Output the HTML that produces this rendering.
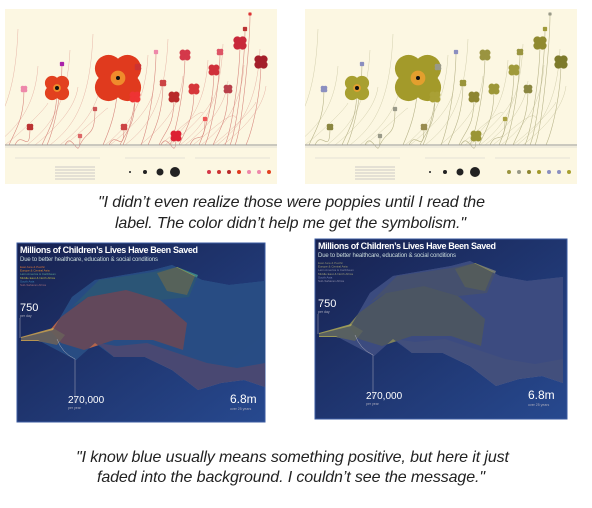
<!DOCTYPE html>
<html><head><meta charset="utf-8">
<style>
html,body{margin:0;padding:0;background:#fff;width:592px;height:508px;overflow:hidden;font-family:"Liberation Sans",sans-serif}
svg{position:absolute;left:0;top:0}
</style></head>
<body>
<svg id="root" width="592" height="508" viewBox="0 0 592 508">
<defs>
<pattern id="dots" width="2.4" height="2.4" patternUnits="userSpaceOnUse"><rect width="2.4" height="2.4" fill="#1b2c63" opacity="0.55"/></pattern>
<linearGradient id="navy" x1="0" y1="0" x2="1" y2="1"><stop offset="0" stop-color="#17214f"/><stop offset="1" stop-color="#27498f"/></linearGradient>
<clipPath id="topclip"><rect x="0" y="0" width="272" height="175"/></clipPath>
</defs>
<g id="top-left" transform="translate(5,9)" clip-path="url(#topclip)"></g>
<g id="top-right" transform="translate(305,9)" clip-path="url(#topclip)"></g>
<text x="98" y="207" textLength="387" font-size="16" font-style="italic" fill="#222">"I didn’t even realize those were poppies until I read the</text>
<text x="115" y="228" textLength="351" font-size="16" font-style="italic" fill="#222">label. The color didn’t help me get the symbolism."</text>
<g id="bottom-left" transform="translate(17,243)"></g>
<g id="bottom-right" transform="translate(315,239)"></g>
<text x="76" y="462" textLength="433" font-size="16" font-style="italic" fill="#222">"I know blue usually means something positive, but here it just</text>
<text x="97" y="482" textLength="388" font-size="16" font-style="italic" fill="#222">faded into the background. I couldn’t see the message."</text>
</svg>
<script>
const NS="http://www.w3.org/2000/svg";
// poppy flowers: x, y, radius
const flowerX=[113,52,180,133,169,130,189,209,235,256,223,171,119,25,19,57,151,215,158,240,200,90,75,245];
const flowerY=[69,79,46,58,88,88,80,61,34,53,80,127,118,118,80,55,43,43,74,20,110,100,127,5];
const flowerR=[21,11,5,3,5,5,5,5,6,6,4,5,3,3,3,2,2,3,3,2,2,2,2,1.5];
const flowerHueRed=["#e03a1e","#e2411f","#d4384a","#c33","#b82a2a","#e33","#d6373a","#d0303a","#c8283a","#a41f2a","#b8404a","#d23","#c44","#b33","#e8a","#a2a","#e8a","#d56","#c44","#b33","#e55","#c55","#d66","#d33"];
const flowerHueOlive=["#a39a2a","#a8a030","#9a9440","#998","#8d8530","#a9a035","#9d9738","#a09a3a","#908a30","#7d7a2a","#8a8640","#9a9535","#998c50","#8a8640","#8b8fc0","#8b8fc0","#8b8fc0","#9a9540","#99943a","#a09a3a","#a9a040","#998","#998","#998"];
const stemEnds=[10,30,40,62,70,85,95,100,140,145,160,175,195,200,205,215,220,228,236,248,252,258];
function el(t,a,p){const e=document.createElementNS(NS,t);for(const k in a)e.setAttribute(k,a[k]);p.appendChild(e);return e;}
function poppy(g,hue,stemCol){
  const bg=el('rect',{x:0,y:0,width:272,height:175,fill:'#fcf7e2'},g);
  
  for(let i=0;i<stemEnds.length;i++){const x=stemEnds[i];
    const s=el('path',{d:`M${x-40},136 C${x-20},120 ${x},100 ${x+3},${20+(i*37)%90}`,stroke:stemCol,'stroke-width':0.5,fill:'none',opacity:0.6},g);
    }
  for(let i=0;i<flowerX.length;i++){
    const s=el('path',{d:`M${flowerX[i]-15},136 C${flowerX[i]-8},120 ${flowerX[i]},${flowerY[i]+30} ${flowerX[i]},${flowerY[i]}`,stroke:stemCol,'stroke-width':0.6,fill:'none'},g);
    
  }
  for(let i=0;i<flowerX.length;i++){
    const r=flowerR[i],x=flowerX[i],y=flowerY[i];const f=el('g',{},g);
    
    for(const [dx,dy] of [[-1,-1],[1,-1],[-1,1],[1,1]])el('circle',{cx:x+dx*r*0.45,cy:y+dy*r*0.45,r:r*0.65,fill:hue[i]},f);
    if(r>8){el('circle',{cx:x,cy:y,r:r*0.35,fill:'#f2a030',opacity:0.8},f);el('circle',{cx:x,cy:y,r:2,fill:'#111'},f);}
  }
  const ax=el('line',{x1:0,y1:136,x2:272,y2:136,stroke:'#999','stroke-width':1},g);
  
  el('line',{x1:0,y1:138,x2:272,y2:138,stroke:'#ccc','stroke-width':0.6},g);
  const lg=el('g',{},g);
  el('line',{x1:10,y1:149,x2:95,y2:149,stroke:'#ccc','stroke-width':0.5},lg);
  el('line',{x1:120,y1:149,x2:180,y2:149,stroke:'#ccc','stroke-width':0.5},lg);
  el('line',{x1:190,y1:149,x2:265,y2:149,stroke:'#ccc','stroke-width':0.5},lg);
  for(let k=0;k<5;k++)el('line',{x1:50,y1:158+k*3,x2:90,y2:158+k*3,stroke:'#bbb','stroke-width':0.7},lg);
  [1,2,3.5,5].forEach((r,k)=>el('circle',{cx:125+k*15,cy:163,r:r,fill:'#222'},lg));
  for(let k=0;k<7;k++)el('circle',{cx:204+k*10,cy:163,r:2,fill:hue[[2,3,4,0,14,16,1][k]]},lg);
}
poppy(document.getElementById('top-left'),flowerHueRed,'#d88a80');
poppy(document.getElementById('top-right'),flowerHueOlive,'#b8b48a');

const blobOuter=[[4,95],[36,87],[55,54],[78,37],[136,27],[155,22],[185,37],[212,42],[248,38],[248,144],[227,137],[204,140],[181,147],[155,127],[128,114],[97,114],[78,100],[59,117],[40,107],[21,97],[4,97]];
const blobOrange=[[33,87],[44,74],[71,54],[109,47],[143,57],[170,80],[166,107],[136,97],[97,97],[67,107],[44,100]];
const blobTeal=[[55,64],[82,37],[136,29],[160,24],[181,32],[172,54],[143,57],[109,47],[71,54]];
const blobYellow=[[140,30],[160,24],[178,33],[170,52],[150,48]];
const blobBottom=[[80,100],[97,114],[128,114],[155,127],[181,147],[204,140],[227,137],[248,144],[248,120],[220,125],[190,120],[160,110],[130,100],[100,103]];
const blobTail=[[4,94],[36,85],[48,92],[40,102],[21,98],[4,98]];
const legendLabels=["East Asia & Pacific","Europe & Central Asia","Latin America & Caribbean","Middle East & North Africa","South Asia","Sub-Saharan Africa"];
const colsColor=["#d2703a","#e08a30","#5aa08a","#b6b24a","#3b86b8","#9a6a7a"];
const colsMuted=["#8a8c70","#a4a070","#8086a0","#9a9a78","#7c88b8","#8a8aa8"];
function pts(a){return a.map(p=>p.join(',')).join(' ');}
function kids(g,w,h,fills,legendCols){
  const bg=el('rect',{x:0,y:0,width:w,height:h,fill:'url(#navy)',stroke:'#3a5aa0','stroke-width':1},g);
  
  const regions=[[blobOuter,fills[0],'region-all'],[blobBottom,fills[1],'region-bottom'],[blobTeal,fills[2],'region-upper'],[blobOrange,fills[3],'region-center'],[blobYellow,fills[4],'region-yellow'],[blobTail,fills[5],'region-tail']];
  regions.forEach(([p,c,n])=>{const e=el('polygon',{points:pts(p),fill:c,opacity:0.9},g);});
  el('polygon',{points:pts(blobOuter),fill:'url(#dots)'},g);
  const t=el('text',{x:3,y:10,'font-size':9,'font-weight':'bold',fill:'#fff',textLength:178},g);t.textContent="Millions of Children’s Lives Have Been Saved";
  
  const s=el('text',{x:3,y:18,'font-size':6,fill:'#cdd',textLength:138},g);s.textContent="Due to better healthcare, education & social conditions";
  
  legendLabels.forEach((l,i)=>{const e=el('text',{x:3,y:25+i*3.6,'font-size':3,fill:legendCols[i]},g);e.textContent=l;});
  el('line',{x1:3,y1:75,x2:3,y2:95,stroke:'#aab','stroke-width':0.5},g);
  el('path',{d:'M40,96 Q45,110 58,116 L58,160',stroke:'#aab','stroke-width':0.5,fill:'none'},g);
  [[3,68,"750",11],[51,160,"270,000",10],[213,160,"6.8m",12]].forEach(([x,y,tx,fs])=>{const e=el('text',{x:x,y:y,'font-size':fs,fill:'#fff'},g);e.textContent=tx;});
  [[3,74,"per day"],[51,166,"per year"],[213,167,"over 25 years"]].forEach(([x,y,tx])=>{const e=el('text',{x:x,y:y,'font-size':3.5,fill:'#aab'},g);e.textContent=tx;});
}
kids(document.getElementById('bottom-left'),248,179,["#3a7ab0","#8a6a80","#3f8a8a","#c56a48","#a8a848","#c8a050"],colsColor);
kids(document.getElementById('bottom-right'),252,180,["#6a78a8","#727a9a","#7a7e78","#8a8a5a","#9a9850","#a8a458"],colsMuted);
</script>
</body></html>
